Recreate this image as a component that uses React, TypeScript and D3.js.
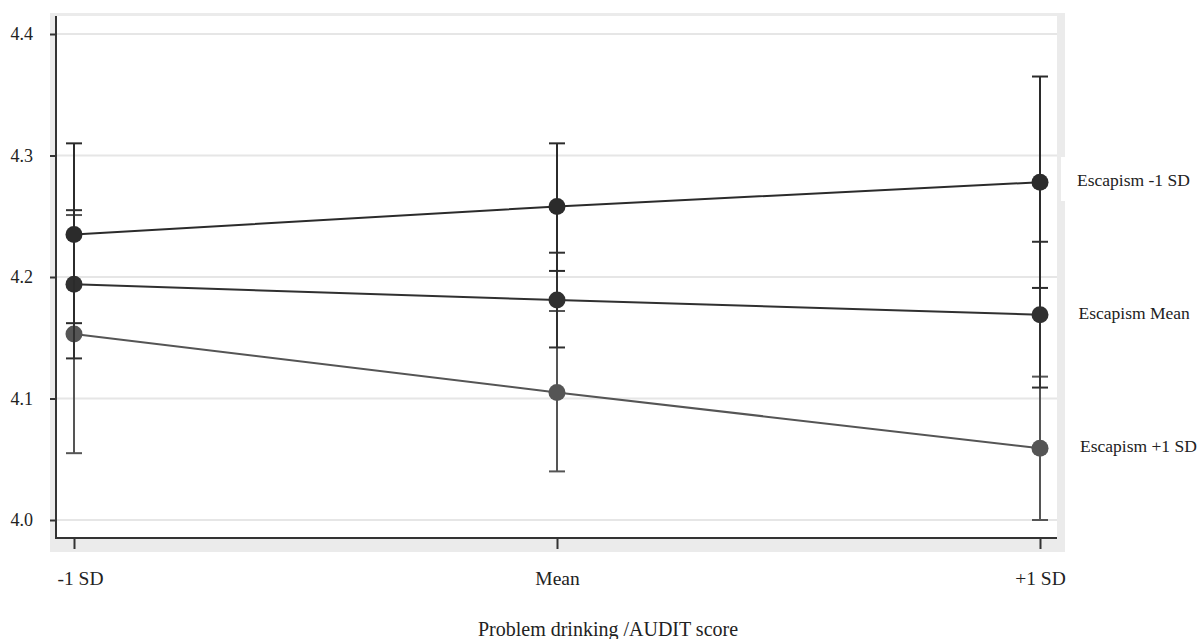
import React, { useEffect, useRef } from 'react';
import * as d3 from 'd3';

// x categories (problem drinking level) and y ticks
const categories = ['-1 SD', 'Mean', '+1 SD'];
const yTicks = [4.0, 4.1, 4.2, 4.3, 4.4];

// one entry per escapism level
const seriesNames = ['Escapism -1 SD', 'Escapism Mean', 'Escapism +1 SD'];
const lowEscMeans = [4.235, 4.258, 4.278];
const lowEscLower = [4.162, 4.205, 4.191];
const lowEscUpper = [4.31, 4.31, 4.365];
const midEscMeans = [4.194, 4.181, 4.169];
const midEscLower = [4.133, 4.142, 4.109];
const midEscUpper = [4.255, 4.22, 4.229];
const highEscMeans = [4.153, 4.105, 4.059];
const highEscLower = [4.055, 4.04, 4.0];
const highEscUpper = [4.251, 4.172, 4.118];

const seriesColors = ['#2b2b2b', '#303030', '#555555'];
const serif = '"Liberation Serif", "Times New Roman", serif';

export default function App() {
  const ref = useRef<SVGSVGElement>(null);

  useEffect(() => {
    document.body.style.margin = '0';
    const svg = d3.select(ref.current);
    svg.selectAll('*').remove();

    const left = 56, right = 1057, top = 16, bottom = 538;

    const x = d3.scalePoint<string>().domain(categories).range([74, 1040]);
    const y = d3.scaleLinear().domain([4.0, 4.4]).range([520, 34]);

    // grey frame around the plot panel
    svg.append('rect').attr('x', 50).attr('y', 13).attr('width', 1015).attr('height', 539).attr('fill', '#ebebeb');
    svg.append('rect').attr('x', left).attr('y', top).attr('width', right - left).attr('height', bottom - top).attr('fill', '#fff');

    // gridlines
    svg.append('g').selectAll('line').data(yTicks).enter().append('line')
      .attr('x1', left).attr('x2', right)
      .attr('y1', (d) => y(d)).attr('y2', (d) => y(d))
      .attr('stroke', '#e6e6e6').attr('stroke-width', 2);

    const series = [
      { name: seriesNames[0], means: lowEscMeans, lower: lowEscLower, upper: lowEscUpper },
      { name: seriesNames[1], means: midEscMeans, lower: midEscLower, upper: midEscUpper },
      { name: seriesNames[2], means: highEscMeans, lower: highEscLower, upper: highEscUpper },
    ];

    const line = d3.line<number>().x((d, i) => x(categories[i]) as number).y((d) => y(d));

    // draw the light series first so darker ones sit on top
    [2, 1, 0].forEach((si) => {
      const s = series[si];
      const col = seriesColors[si];
      const g = svg.append('g');
      categories.forEach((c, i) => {
        const cx = x(c) as number;
        g.append('line').attr('x1', cx).attr('x2', cx)
          .attr('y1', y(s.lower[i])).attr('y2', y(s.upper[i]))
          .attr('stroke', col).attr('stroke-width', 2);
        [s.lower[i], s.upper[i]].forEach((v) => {
          g.append('line').attr('x1', cx - 8).attr('x2', cx + 8)
            .attr('y1', y(v)).attr('y2', y(v))
            .attr('stroke', col).attr('stroke-width', 2);
        });
      });
      g.append('path').datum(s.means).attr('d', line)
        .attr('fill', 'none').attr('stroke', col).attr('stroke-width', 2);
      g.selectAll('circle').data(s.means).enter().append('circle')
        .attr('cx', (d, i) => x(categories[i]) as number).attr('cy', (d) => y(d))
        .attr('r', 8.5).attr('fill', col);
    });

    // axes
    const yAxis = svg.append('g').attr('transform', `translate(${left},0)`)
      .call(d3.axisLeft(y).tickValues(yTicks).tickFormat(d3.format('.1f')).tickSize(6).tickPadding(17));
    yAxis.select('.domain').remove();
    yAxis.selectAll('line').attr('stroke', '#333').attr('stroke-width', 2);
    yAxis.selectAll('text').attr('font-family', serif).attr('font-size', 18).attr('fill', '#222');

    const xAxis = svg.append('g').attr('transform', `translate(0,${bottom})`)
      .call(d3.axisBottom(x).tickSize(11).tickPadding(22));
    xAxis.select('.domain').remove();
    xAxis.selectAll('line').attr('stroke', '#333').attr('stroke-width', 2);
    xAxis.selectAll('text').attr('font-family', serif).attr('font-size', 19.5).attr('fill', '#222');
    xAxis.selectAll('text').filter((d) => d === '-1 SD').attr('dx', 6);

    svg.append('line').attr('x1', left).attr('x2', left).attr('y1', top).attr('y2', bottom + 1)
      .attr('stroke', '#333').attr('stroke-width', 2);
    svg.append('line').attr('x1', left).attr('x2', right).attr('y1', bottom).attr('y2', bottom)
      .attr('stroke', '#333').attr('stroke-width', 2);

    // series labels on the right
    svg.append('rect').attr('x', 1061).attr('y', 157).attr('width', 141).attr('height', 44).attr('fill', '#fff');
    series.forEach((s, i) => {
      svg.append('text').attr('x', 1077 + i * 1.5).attr('y', y(s.means[2]) + 4)
        .attr('font-family', serif).attr('font-size', 17.5).attr('fill', '#222')
        .text(s.name);
    });

    svg.append('text').attr('x', 608).attr('y', 636).attr('text-anchor', 'middle')
      .attr('font-family', serif).attr('font-size', 20).attr('fill', '#222')
      .text('Problem drinking /AUDIT score');
  }, []);

  return <svg ref={ref} width={1202} height={639} style={{ display: 'block' }} />;
}
